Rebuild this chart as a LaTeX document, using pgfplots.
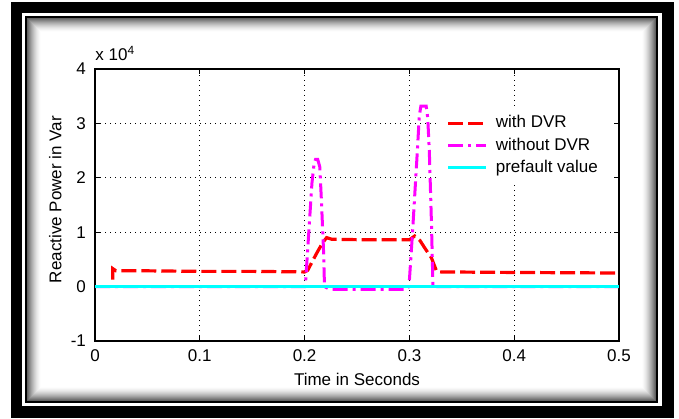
\documentclass[border=0pt]{standalone}
\usepackage{fontspec}
\setmainfont{Liberation Sans}
\usepackage{pgfplots}
\pgfplotsset{compat=1.18}
\definecolor{mred}{rgb}{1,0,0}
\definecolor{mmag}{rgb}{1,0,1}
\definecolor{mcyan}{rgb}{0,1,1}

\begin{document}
\begin{tikzpicture}[x=0.5pt,y=0.5pt]
% page = 679 x 418 px, 1 px = 0.5pt
\path[use as bounding box] (0,0) rectangle (679,418);
% frame
\fill[black] (11,0) rectangle (674,416);
\fill[white] (22,12) rectangle (662,405);
\fill[black] (25,15) rectangle (658,402);
\fill[white] (27,17) rectangle (656,400);
\foreach \i in {0,...,13}{
  \pgfmathsetmacro\g{62*(1-\i/14)^1.6}
  \draw[black!\g, line width=0.5pt] (27.5+\i,17.5+\i) rectangle (655.5-\i,399.5-\i);
}

\begin{axis}[
    at={(47.5pt,38.5pt)}, anchor=south west,
    scale only axis,
    width=262pt, height=136pt,
    xmin=0, xmax=0.5, ymin=-1, ymax=4,
    xtick={0,0.1,0.2,0.3,0.4,0.5},
    xticklabels={0,0.1,0.2,0.3,0.4,0.5},
    ytick={-1,0,1,2,3,4},
    yticklabels={-1,0,1,2,3,4},
    tick align=inside,
    major tick length=2.5pt,
    tick style={black, line width=0.5pt},
    axis line style={black, line width=0.6pt},
    grid=major,
    major grid style={black, line width=0.5pt, dash pattern=on 0.5pt off 2pt},
    ticklabel style={font=\fontsize{8.5}{10}\selectfont},
    xticklabel style={yshift=-1pt},
    yticklabel style={xshift=-1pt},
    label style={font=\fontsize{8.5}{10}\selectfont},
    xlabel={Time in Seconds},
    ylabel={Reactive Power in Var},
    xlabel style={at={(axis description cs:0.5,-0.143)}, anchor=center},
    ylabel style={at={(axis description cs:-0.076,0.52)}, anchor=center, rotate=0},
    legend style={draw=none, fill=white, at={(0.655,0.855)}, anchor=north west,
        font=\fontsize{8.5}{10}\selectfont, inner xsep=4pt, inner ysep=3pt,
        row sep=2.6pt,
        nodes={text height=6.5pt, text depth=2pt, inner ysep=0pt, inner xsep=4pt}},
    legend cell align=left,
    legend image code/.code={\draw[#1] (0pt,0pt) -- (19pt,0pt);},
    clip=false,
]
\addplot[mred, line width=1.6pt, dash pattern=on 7.5pt off 2.5pt] coordinates {
    (0.017,0.13) (0.017,0.33) (0.02,0.29) (0.05,0.29) (0.1,0.28) (0.15,0.28)
    (0.2,0.27) (0.203,0.3) (0.207,0.45) (0.212,0.63) (0.217,0.8) (0.221,0.9)
    (0.226,0.87) (0.26,0.86) (0.3,0.86) (0.305,0.93) (0.31,0.85) (0.315,0.7)
    (0.321,0.53) (0.326,0.28) (0.33,0.27) (0.4,0.26) (0.5,0.25)
};
\addlegendentry{with DVR}
\addplot[mmag, line width=1.5pt, dash pattern=on 7.5pt off 2.5pt on 1.5pt off 2.5pt] coordinates {
    (0,0) (0.2,0) (0.201,0.1) (0.204,1.0) (0.207,1.9) (0.209,2.25) (0.2105,2.34)
    (0.2125,2.34) (0.2145,2.2) (0.216,1.6) (0.218,0.7) (0.219,0) (0.224,-0.05)
    (0.297,-0.05) (0.2996,0) (0.303,1.0) (0.307,2.3) (0.3095,3.15) (0.311,3.32)
    (0.316,3.32) (0.3175,3.1) (0.319,2.5) (0.321,1.2) (0.3225,0) (0.5,0)
};
\addlegendentry{without DVR}
\addplot[mcyan, line width=1.6pt] coordinates {(0,0) (0.5,0)};
\addlegendentry{prefault value}
\node[anchor=south west, inner sep=0pt, font=\fontsize{8.5}{10}\selectfont]
    at (rel axis cs:0,1) [yshift=4pt] {x 10\textsuperscript{4}};
\end{axis}
\end{tikzpicture}
\end{document}
